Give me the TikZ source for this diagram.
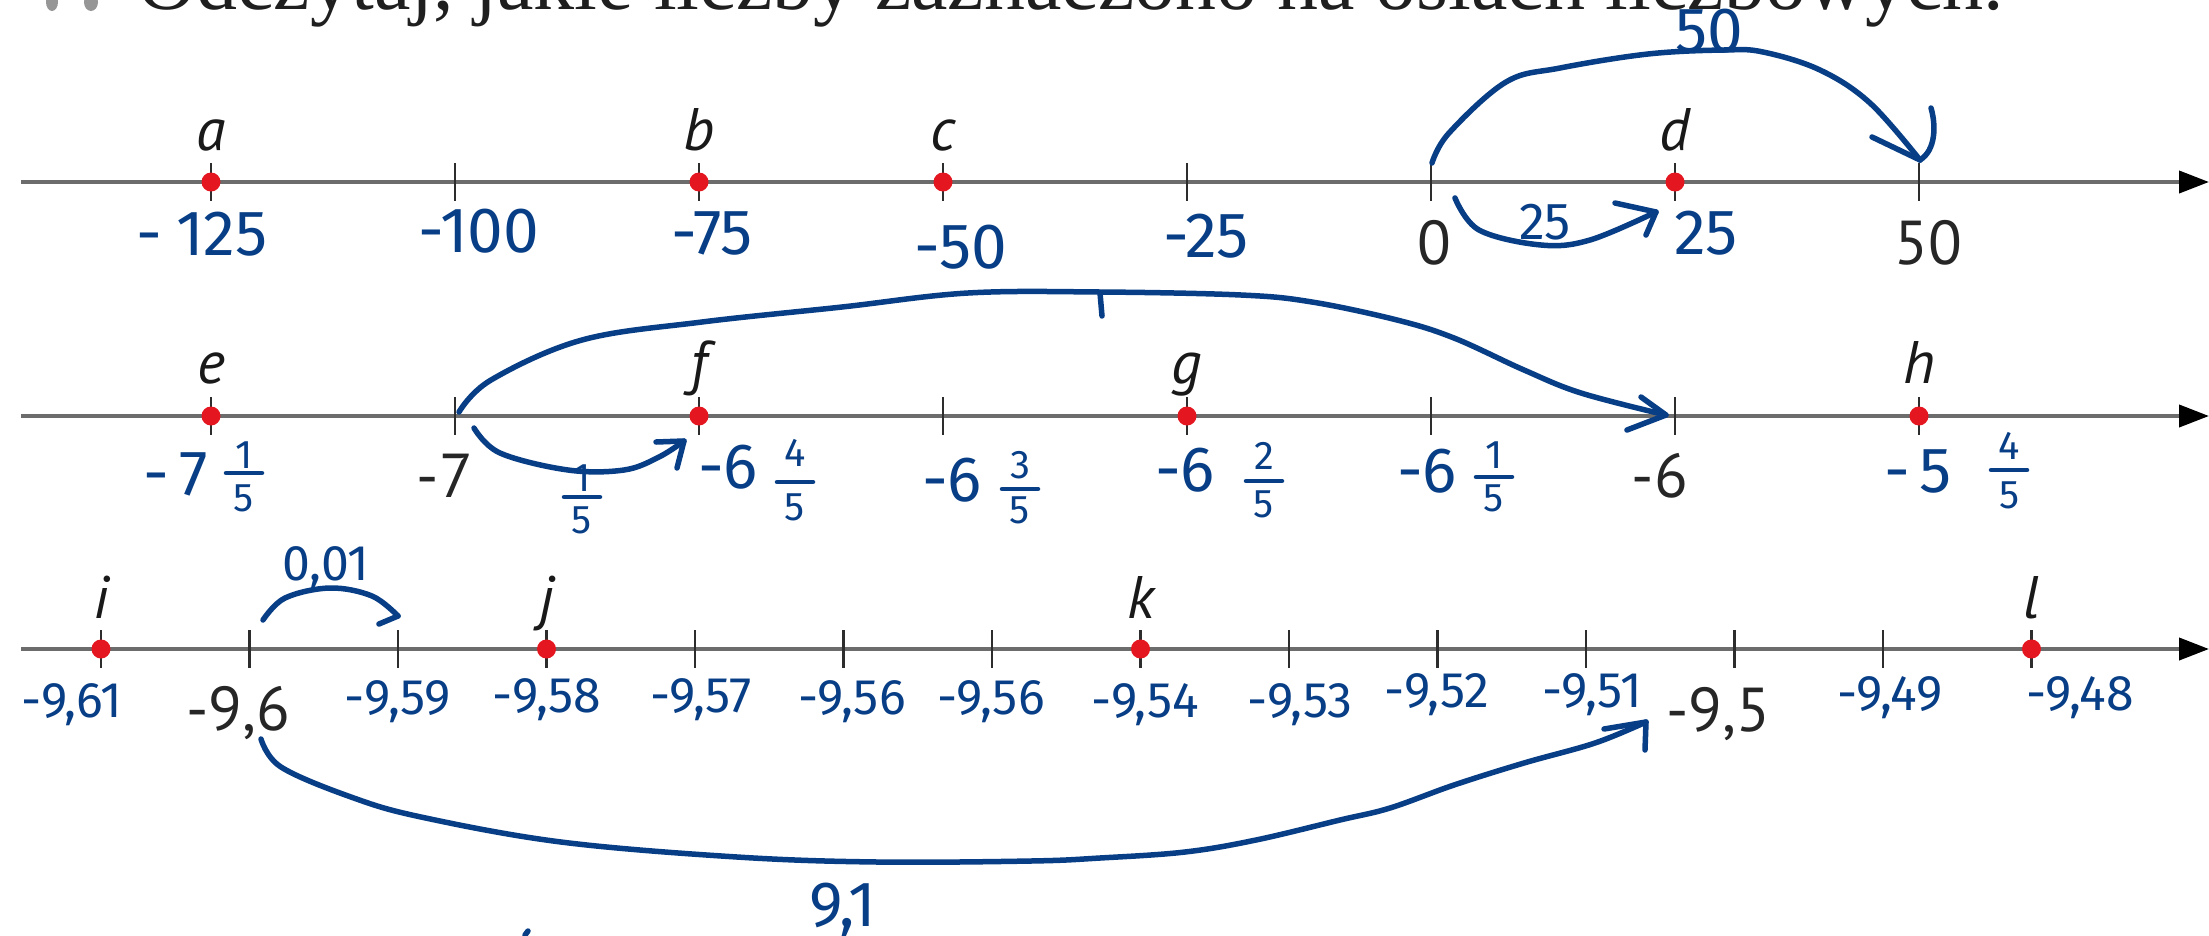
\documentclass[tikz,border=0pt]{standalone}
\usepackage{fontspec}
\setmainfont{Liberation Serif}
\newfontfamily\prfont{PT Sans}
\newfontfamily\hdfont{Fira Sans}
\usetikzlibrary{arrows.meta}
\definecolor{hblue}{RGB}{8,62,134}
\definecolor{dotred}{RGB}{228,22,32}
\definecolor{axgray}{RGB}{108,108,108}
\definecolor{tickc}{RGB}{45,45,45}
\definecolor{ttgray}{RGB}{150,150,150}
% fraction: name, x, num y, bar y, den y, num, den
\newcommand{\hfrac}[7]{%
  \node[hfr] (#1n) at ({#2},{#3}) {#6};
  \node[hfr] (#1d) at ({#2},{#5}) {#7};
  \draw[hand,line width=4.5pt] ({#2-18},{#4}) -- ({#2+18},{#4});}
\begin{document}
\begin{tikzpicture}[x=1pt,y=-1pt,
  axisline/.style={draw=axgray,line width=4pt},
  tck/.style={draw=tickc,line width=2.2pt},
  rdot/.style={circle,fill=dotred,inner sep=0pt,minimum size=19pt},
  lett/.style={font=\prfont\itshape\fontsize{60}{62}\selectfont,anchor=base,inner sep=0pt,text=black!90},
  pnum/.style={font=\prfont\fontsize{62}{64}\selectfont,anchor=base,inner sep=0pt,text=black!85},
  hand/.style={draw=hblue,line width=5.5pt,line cap=round,line join=round},
  hlab/.style={font=\hdfont\fontsize{64}{66}\selectfont,text=hblue,inner sep=0pt},
  hmid/.style={font=\hdfont\fontsize{52}{54}\selectfont,text=hblue,inner sep=0pt},
  hsm/.style={font=\hdfont\fontsize{50}{52}\selectfont,text=hblue,inner sep=0pt},
  hfr/.style={font=\hdfont\fontsize{40}{42}\selectfont,text=hblue,inner sep=0pt},
]
\useasboundingbox (0,0) rectangle (2209,935);

% title (cut at top)
\fill[ttgray] (52,2) ellipse [x radius=6, y radius=9];
\fill[ttgray] (91,2) ellipse [x radius=7, y radius=9];
\node[anchor=base west,inner sep=0pt,font=\fontsize{82}{84}\selectfont,text=black!88] (title) at (137,9)
  {Odczytaj, jakie liczby zaznaczono na osiach liczbowych.};

% ---------------- row 1 ----------------
\coordinate (r1s) at (21,182); \coordinate (r1e) at (2209,182);
\draw[axisline,-{Triangle[length=30pt,width=22pt,color=black]}] (r1s) -- (r1e);
\foreach \k in {0,...,7} \draw[tck] ({211+244*\k},163) -- ({211+244*\k},201);
\node[rdot] (a) at (211,182) {};
\node[rdot] (b) at (699,182) {};
\node[rdot] (c) at (943,182) {};
\node[rdot] (d) at (1675,182) {};
\node[lett] (la) at (211,150) {a};
\node[lett] (lb) at (699,150) {b};
\node[lett] (lc) at (943,150) {c};
\node[lett] (ld) at (1675,150) {d};
\node[pnum] (n0) at (1434,264) {0};
\node[pnum] (n50) at (1928,264) {50};

\node[hlab] (h125) at (202,234) {-\hspace{14pt}125};
\node[hlab] (h100) at (479,231) {-100};
\node[hlab] (h75) at (712,233) {-75};
\node[hlab] (h50) at (961,247) {-50};
\node[hlab] (h25m) at (1206,236) {-25};
\node[hlab] (h25) at (1706,233) {25};
\node[hlab] (hA) at (1709,31) {50};
\node[hmid] (hB) at (1545,222) {25};

% arc 0 -> 50
\coordinate (A1) at (1432,163); \coordinate (A2) at (1920,160);
\draw[hand] plot[smooth,tension=0.6] coordinates {(A1) (1449,133) (1506,82) (1560,68) (1648,54) (1724,50) (1763,52) (1820,70) (1870,103) (A2)};
\draw[hand] (1872,137) -- (A2);
\draw[hand] (A2) .. controls (1936,150) and (1936,125) .. (1931,108);
% arc 0 -> 25
\coordinate (B1) at (1455,198); \coordinate (B2) at (1656,212);
\draw[hand] plot[smooth,tension=0.6] coordinates {(B1) (1479,230) (1541,245) (1590,240) (B2)};
\draw[hand] (1615,203) -- (B2) -- (1646,235);

% ---------------- row 2 ----------------
\coordinate (r2s) at (21,416); \coordinate (r2e) at (2209,416);
\draw[axisline,-{Triangle[length=30pt,width=22pt,color=black]}] (r2s) -- (r2e);
\foreach \k in {0,...,7} \draw[tck] ({211+244*\k},397) -- ({211+244*\k},435);
\node[rdot] (e) at (211,416) {};
\node[rdot] (f) at (699,416) {};
\node[rdot] (g) at (1187,416) {};
\node[rdot] (h) at (1919,416) {};
\node[lett] (le) at (211,383) {e};
\node[lett] (lf) at (699,383) {f};
\node[lett] (lg) at (1187,383) {g};
\node[lett] (lh) at (1919,383) {h};
\node[pnum] (nm7) at (445,497) {-7};
\node[pnum] (nm6) at (1660,497) {-6};

\node[hlab] (w7) at (176,474) {-\hspace{10pt}7};
\hfrac{fe}{244}{455}{473}{498}{1}{5}
\hfrac{fs}{582}{478}{497}{520}{1}{5}
\node[hlab] (w6a) at (728,467) {-6};
\hfrac{ff}{795}{453}{482}{507}{4}{5}
\node[hlab] (w6b) at (952,480) {-6};
\hfrac{fx}{1020}{465}{489}{510}{3}{5}
\node[hlab] (w6c) at (1185,470) {-6};
\hfrac{fg}{1264}{456}{481}{504}{2}{5}
\node[hlab] (w6d) at (1427,471) {-6};
\hfrac{fy}{1494}{455}{477}{498}{1}{5}
\node[hlab] (w5) at (1918,471) {-\hspace{10pt}5};
\hfrac{fh}{2009}{446}{470}{495}{4}{5}

% arc -7 -> -6
\coordinate (C1) at (459,412); \coordinate (C2) at (1666,415);
\draw[hand] plot[smooth,tension=0.6] coordinates {(C1) (491,380) (582,340) (702,322) (842,307) (968,293) (1100,292) (1241,295) (1312,302) (1397,320) (1454,338) (1524,370) (1581,393) (C2)};
\draw[hand] (1641,397) -- (C2) -- (1627,430);
\draw[hand] (1100,293) -- (1102,316);
% arc -7 -> f
\coordinate (D1) at (474,428); \coordinate (D2) at (684,441);
\draw[hand] plot[smooth,tension=0.6] coordinates {(D1) (500,453) (568,470) (624,470) (659,457) (D2)};
\draw[hand] (656,442) -- (D2) -- (677,468);

% ---------------- row 3 ----------------
\coordinate (r3s) at (21,649); \coordinate (r3e) at (2209,649);
\draw[axisline,-{Triangle[length=30pt,width=22pt,color=black]}] (r3s) -- (r3e);
\foreach \k in {0,...,13} \draw[tck] ({101+148.5*\k},630) -- ({101+148.5*\k},668);
\node[rdot] (i) at (101,649) {};
\node[rdot] (j) at (546.5,649) {};
\node[rdot] (k) at (1140.5,649) {};
\node[rdot] (l) at (2031.5,649) {};
\node[lett] (li) at (101,618) {i};
\node[lett] (lj) at (546.5,618) {j};
\node[lett] (lk) at (1140.5,618) {k};
\node[lett] (ll) at (2031.5,618) {l};
\node[pnum] (n96) at (238,730) {-9,6};
\node[pnum] (n95) at (1718,731) {-9,5};

\node[hsm] (m61) at (72,705) {-9,61};
\node[hsm] (m59) at (398,702) {-9,59};
\node[hsm] (m58) at (547,700) {-9,58};
\node[hsm] (m57) at (701,700) {-9,57};
\node[hsm] (m56a) at (852,702) {-9,56};
\node[hsm] (m56b) at (991,702) {-9,56};
\node[hsm] (m54) at (1145,705) {-9,54};
\node[hsm] (m53) at (1300,705) {-9,53};
\node[hsm] (m52) at (1437,695) {-9,52};
\node[hsm] (m51) at (1592,695) {-9,51};
\node[hsm] (m49) at (1890,698) {-9,49};
\node[hsm] (m48) at (2080,698) {-9,48};
\node[hsm] (h001) at (326,568) {0,01};
\node[font=\hdfont\fontsize{64}{66}\selectfont,text=hblue,inner sep=0pt] (h91) at (843,910) {9,1};

% arc -9,6 -> -9,59
\coordinate (E1) at (263,620); \coordinate (E2) at (398,616);
\draw[hand] plot[smooth,tension=0.6] coordinates {(E1) (285,598) (330,588) (372,596) (E2)};
\draw[hand] (379,624) -- (E2);
% arc -9,6 -> -9,5
\coordinate (F1) at (261,739); \coordinate (F2) at (1646,722);
\draw[hand] plot[smooth,tension=0.6] coordinates {(F1) (281,767) (351,797) (421,817) (561,842) (737,857) (877,862) (1031,861) (1100,858) (1185,852) (1256,840) (1340,820) (1390,808) (1454,785) (1524,763) (1595,743) (F2)};
\draw[hand] (1604,729) -- (F2) -- (1645,750);
\draw[hand] (525,935) -- (528,931);
\end{tikzpicture}
\end{document}
